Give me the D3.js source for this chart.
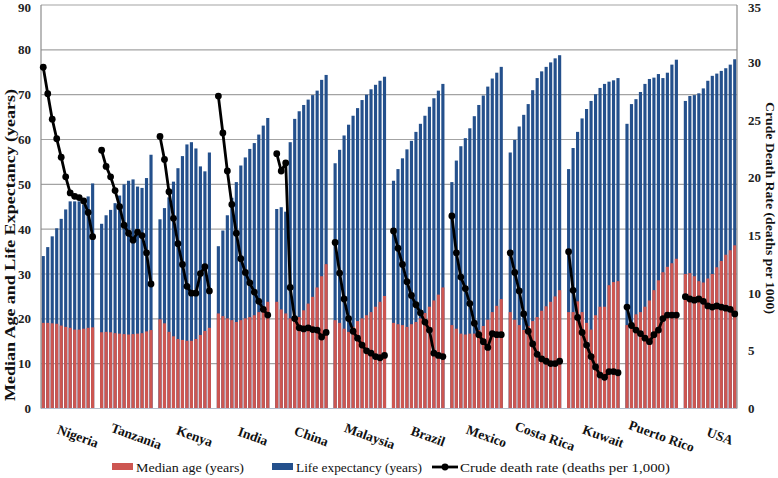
<!DOCTYPE html>
<html><head><meta charset="utf-8">
<script src="https://cdn.jsdelivr.net/npm/d3@7"></script>
<style>html,body{margin:0;padding:0;background:#fff;}svg{display:block;}</style>
</head><body>
<svg id="c" width="778" height="478"></svg>
<script>
const countries = ["Nigeria","Tanzania","Kenya","India","China","Malaysia","Brazil","Mexico","Costa Rica","Kuwait","Puerto Rico","USA"];
const leftTicks = [0,10,20,30,40,50,60,70,80,90];
const rightTicks = [0,5,10,15,20,25,30,35];

const lifeExpectancy = [
  [34.0,36.0,38.4,40.2,42.3,44.4,46.2,46.2,46.2,45.5,47.3,50.2],
  [41.2,43.1,44.3,45.8,47.5,50.0,50.8,51.1,49.5,49.2,51.4,56.6],
  [42.2,44.7,47.1,50.6,53.6,56.3,58.9,59.4,58.0,54.0,52.9,57.1],
  [36.2,39.7,43.1,47.0,50.5,54.2,56.0,57.9,59.2,61.1,63.1,64.8],
  [44.5,44.9,43.9,59.4,64.6,66.3,67.7,68.9,69.9,70.9,73.3,74.4],
  [54.7,57.7,60.9,63.3,65.3,67.0,68.8,70.0,71.2,72.2,73.1,74.0],
  [50.8,53.4,55.8,57.8,59.7,61.7,63.5,65.3,67.3,69.2,70.9,72.4],
  [50.5,55.3,58.5,60.3,62.5,65.2,67.7,69.8,71.8,73.6,74.9,76.2],
  [57.1,59.9,62.9,65.5,67.9,71.0,73.7,75.2,76.2,77.2,78.1,78.8],
  [53.4,58.1,61.7,64.7,66.8,68.6,70.1,71.5,72.4,72.9,73.2,73.7],
  [63.5,67.9,69.0,70.6,72.4,73.5,73.8,74.6,73.7,74.9,76.7,77.8],
  [68.6,69.7,69.9,70.3,71.4,73.1,74.2,74.7,75.3,75.9,76.7,77.9]
];
const medianAge = [
  [19.1,19.1,19.0,18.9,18.5,18.2,18.0,17.6,17.6,17.8,18.0,18.1],
  [17.0,17.1,17.0,16.8,16.7,16.6,16.5,16.6,16.7,16.8,17.2,17.5],
  [19.9,19.0,17.1,16.1,15.5,15.3,15.1,15.1,15.5,16.4,17.3,18.0],
  [21.2,20.6,20.1,19.7,19.3,19.7,20.1,20.4,20.8,21.5,22.3,23.8],
  [23.8,22.1,21.2,20.1,19.7,20.4,21.9,23.4,24.9,27.0,29.5,32.2],
  [19.7,19.1,17.8,17.1,18.2,19.5,20.1,20.8,21.5,22.7,23.8,25.1],
  [19.1,18.8,18.6,18.2,18.8,19.3,20.1,21.3,22.7,24.1,25.4,27.0],
  [18.6,17.8,16.7,16.5,16.7,16.7,17.5,18.4,19.8,21.5,22.9,24.4],
  [21.5,19.8,18.6,17.5,18.4,19.5,20.4,21.8,22.8,23.8,25.0,26.4],
  [21.5,21.5,23.9,21.5,19.1,17.6,20.8,22.7,22.7,27.5,28.2,28.4],
  [18.6,18.2,21.0,21.5,22.7,24.1,26.4,28.6,30.4,31.6,32.4,33.4],
  [30.0,30.2,29.5,28.4,28.1,29.0,30.0,31.5,32.9,34.3,35.3,36.4]
];
const deathRate = [
  [29.6,27.3,25.1,23.4,21.8,20.1,18.7,18.4,18.3,18.0,17.0,14.9],
  [22.4,21.0,20.1,18.9,17.5,15.9,15.2,14.6,15.3,15.0,13.5,10.8],
  [23.6,21.6,18.8,16.5,14.3,12.5,10.6,10.0,10.0,11.7,12.3,10.2],
  [27.1,23.9,20.6,17.7,15.2,13.0,11.8,10.9,10.1,9.3,8.6,8.1],
  [22.1,20.6,21.3,10.5,7.8,7.0,6.9,7.0,6.85,6.8,6.2,6.6],
  [14.4,11.75,9.5,7.8,6.7,6.1,5.5,5.0,4.8,4.5,4.4,4.6],
  [15.4,13.9,12.5,11.0,9.8,9.0,8.3,7.5,6.8,4.8,4.6,4.5],
  [16.7,13.5,11.4,10.4,9.1,7.4,6.4,5.8,5.3,6.5,6.4,6.4],
  [13.5,11.8,10.2,8.2,6.7,5.6,4.7,4.3,4.1,3.9,3.9,4.1],
  [13.6,10.25,7.9,6.6,5.5,4.5,3.6,2.9,2.7,3.2,3.2,3.1],
  [8.8,7.2,6.8,6.5,6.1,5.8,6.4,6.8,7.8,8.1,8.1,8.1],
  [9.7,9.5,9.4,9.5,9.3,8.9,8.8,8.9,8.8,8.7,8.6,8.2]
];

const RED = "#cd5651", BLUE = "#24508c";
const FONT = "'Liberation Serif', 'DejaVu Serif', serif";
const svg = d3.select("#c");
const X0 = 41, X1 = 737, YB = 408.5, YT = 5;
const perGroup = 12, slotsPerGroup = 13;
const nSlots = countries.length * slotsPerGroup - 1;

const x = d3.scaleBand().domain(d3.range(nSlots)).range([X0, X1]).paddingInner(0.3).paddingOuter(0.15);
const yL = d3.scaleLinear().domain([0, 90]).range([YB, YT]);
const yR = d3.scaleLinear().domain([0, 35]).range([YB, YT]);
const slot = (g, j) => g * slotsPerGroup + j;

// gridlines
svg.append("g").selectAll("line").data(leftTicks.filter(d => d > 0)).join("line")
  .attr("x1", X0).attr("x2", X1).attr("y1", d => yL(d)).attr("y2", d => yL(d))
  .attr("stroke", "#a3a3a3").attr("stroke-width", 1.2);

// bars
const barData = [];
countries.forEach((c, g) => {
  for (let j = 0; j < perGroup; j++) barData.push({ g, j, le: lifeExpectancy[g][j], ma: medianAge[g][j] });
});
svg.append("g").selectAll("rect").data(barData).join("rect")
  .attr("x", d => x(slot(d.g, d.j))).attr("width", x.bandwidth())
  .attr("y", d => yL(d.le)).attr("height", d => YB - yL(d.le)).attr("fill", BLUE);
svg.append("g").selectAll("rect").data(barData).join("rect")
  .attr("x", d => x(slot(d.g, d.j))).attr("width", x.bandwidth())
  .attr("y", d => yL(d.ma)).attr("height", d => YB - yL(d.ma)).attr("fill", RED);

// axes lines
svg.append("line").attr("x1", X0).attr("x2", X1).attr("y1", YB).attr("y2", YB).attr("stroke", "#b4bccb").attr("stroke-width", 1.2);
svg.append("line").attr("x1", X0).attr("x2", X0).attr("y1", YT).attr("y2", YB).attr("stroke", "#8c8c8c").attr("stroke-width", 1.2);
svg.append("line").attr("x1", X1).attr("x2", X1).attr("y1", YT).attr("y2", YB).attr("stroke", "#8c8c8c").attr("stroke-width", 1.2);

// death rate lines
const cx = (g, j) => x(slot(g, j)) + x.bandwidth() / 2;
const line = d3.line().x(d => d.x).y(d => d.y);
deathRate.forEach((vals, g) => {
  const pts = vals.map((v, j) => ({ x: cx(g, j), y: yR(v) }));
  svg.append("path").attr("d", line(pts)).attr("fill", "none").attr("stroke", "#000").attr("stroke-width", 2.8).attr("stroke-linejoin", "round");
  svg.append("g").selectAll("circle").data(pts).join("circle")
    .attr("cx", d => d.x).attr("cy", d => d.y).attr("r", 3.4).attr("fill", "#000");
});

// left tick labels
svg.append("g").selectAll("text").data(leftTicks).join("text")
  .attr("x", 31).attr("y", d => Math.max(yL(d), 7)).attr("dy", "0.35em").attr("text-anchor", "end")
  .attr("font-family", FONT).attr("font-weight", "bold").attr("font-size", 13).attr("fill", "#222")
  .text(d => d);
// right tick labels
svg.append("g").selectAll("text").data(rightTicks).join("text")
  .attr("x", 748).attr("y", d => Math.max(yR(d), 7)).attr("dy", "0.35em").attr("text-anchor", "start")
  .attr("font-family", FONT).attr("font-weight", "bold").attr("font-size", 13).attr("fill", "#222")
  .text(d => d);

// axis titles
svg.append("text").attr("transform", "translate(15,245) rotate(-90)").attr("text-anchor", "middle")
  .attr("font-family", FONT).attr("font-weight", "bold").attr("font-size", 14).attr("fill", "#111")
  .attr("textLength", 312).attr("lengthAdjust", "spacingAndGlyphs")
  .text("Median Age and Life Expectancy (years)");
svg.append("text").attr("transform", "translate(766,208) rotate(90)").attr("text-anchor", "middle")
  .attr("font-family", FONT).attr("font-weight", "bold").attr("font-size", 12).attr("fill", "#111")
  .attr("textLength", 212).attr("lengthAdjust", "spacingAndGlyphs")
  .text("Crude Death Rate (deaths per 1000)");

// country labels
svg.append("g").selectAll("text").data(countries).join("text")
  .attr("transform", (d, g) => `translate(${x(slot(g, 0)) + (x(slot(g, perGroup - 1)) + x.bandwidth() - x(slot(g, 0))) / 2 + 10},436) rotate(20)`)
  .attr("text-anchor", "middle").attr("dy", "0.35em")
  .attr("font-family", FONT).attr("font-weight", "bold").attr("font-size", 13.5).attr("fill", "#111")
  .text(d => d);

// legend
const lg = svg.append("g").attr("font-family", FONT).attr("font-size", 13).attr("fill", "#111");
const LY = 467;
lg.append("rect").attr("x", 112).attr("y", LY - 4).attr("width", 21).attr("height", 7).attr("fill", RED);
lg.append("text").attr("x", 136).attr("y", LY).attr("dy", "0.35em").attr("textLength", 108).attr("lengthAdjust", "spacingAndGlyphs").text("Median age (years)");
lg.append("rect").attr("x", 272).attr("y", LY - 4).attr("width", 21).attr("height", 7).attr("fill", BLUE);
lg.append("text").attr("x", 296).attr("y", LY).attr("dy", "0.35em").attr("textLength", 126).attr("lengthAdjust", "spacingAndGlyphs").text("Life expectancy (years)");
lg.append("line").attr("x1", 432).attr("x2", 458).attr("y1", LY).attr("y2", LY).attr("stroke", "#000").attr("stroke-width", 2.8);
lg.append("circle").attr("cx", 445).attr("cy", LY).attr("r", 3.4).attr("fill", "#000");
lg.append("text").attr("x", 460).attr("y", LY).attr("dy", "0.35em").attr("textLength", 210).attr("lengthAdjust", "spacingAndGlyphs").text("Crude death rate (deaths per 1,000)");
</script>
</body></html>
